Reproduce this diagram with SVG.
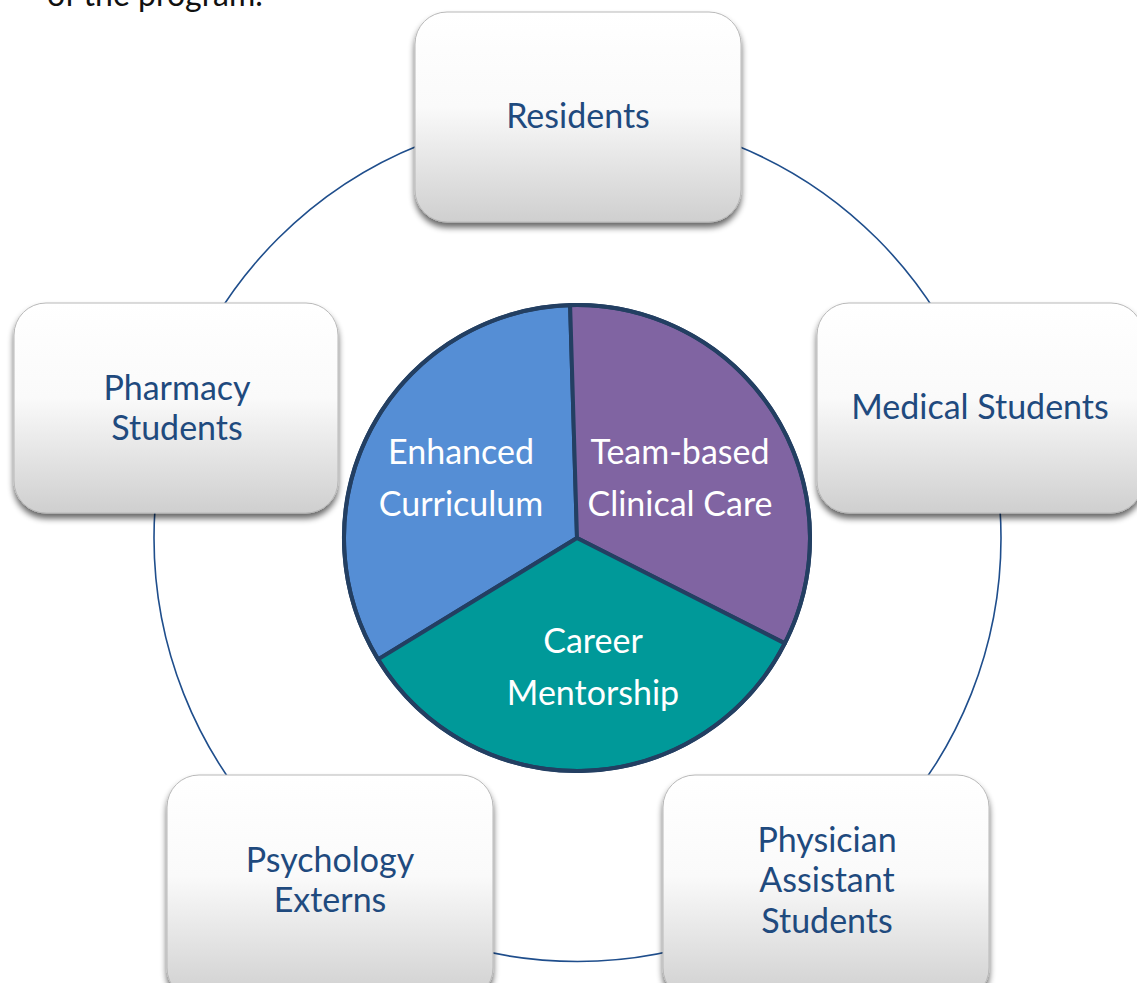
<svg xmlns="http://www.w3.org/2000/svg" width="1137" height="983" viewBox="0 0 1137 983">
<defs>
<linearGradient id="boxg" x1="0" y1="0" x2="0" y2="1">
<stop offset="0" stop-color="#ffffff"/>
<stop offset="0.45" stop-color="#fafafa"/>
<stop offset="1" stop-color="#cfcfcf"/>
</linearGradient>
<filter id="sh" x="-10%" y="-10%" width="120%" height="125%">
<feGaussianBlur in="SourceAlpha" stdDeviation="3"/>
<feOffset dx="0" dy="5" result="b"/>
<feComponentTransfer><feFuncA type="linear" slope="0.6"/></feComponentTransfer>
<feMerge><feMergeNode/><feMergeNode in="SourceGraphic"/></feMerge>
</filter>
</defs>
<style>
.box{fill:url(#boxg);stroke:#b8b8b8;stroke-width:1;filter:url(#sh)}
.lbl{font-family:Lato,"Liberation Sans",sans-serif;font-size:34px;fill:#1F4A7E;text-anchor:middle}
.pl{font-family:Lato,"Liberation Sans",sans-serif;font-size:34px;fill:#ffffff;text-anchor:middle}
.seg{stroke:#233F62;stroke-width:4;stroke-linejoin:round}
</style>
<rect width="1137" height="983" fill="#ffffff"/>
<text x="47" y="6" font-family="Lato,'Liberation Sans',sans-serif" font-size="32" fill="#111111">of the program.</text>
<g id="connectors">
<circle cx="577.5" cy="538" r="423.5" fill="none" stroke="#1F4E8C" stroke-width="1.6"/>
</g>
<g id="center-pie">
<path class="seg" fill="#558ED5" d="M577,538 L570.1,305.1 A233,233 0 0 0 378.1,659.4 Z"/>
<path class="seg" fill="#8064A2" d="M577,538 L784.8,643.4 A233,233 0 0 0 570.1,305.1 Z"/>
<path class="seg" fill="#009999" d="M577,538 L378.1,659.4 A233,233 0 0 0 784.8,643.4 Z"/>
<circle cx="577" cy="538" r="233" fill="none" stroke="#233F62" stroke-width="4"/>
<text class="pl" x="461" y="464">Enhanced</text>
<text class="pl" x="461" y="516">Curriculum</text>
<text class="pl" x="680" y="464">Team-based</text>
<text class="pl" x="680" y="516">Clinical Care</text>
<text class="pl" x="593" y="653">Career</text>
<text class="pl" x="593" y="705">Mentorship</text>
</g>
<g id="residents">
<rect class="box" x="415" y="12" width="326" height="210" rx="32"/>
<text class="lbl" x="578" y="128">Residents</text>
</g>
<g id="medical-students">
<rect class="box" x="817" y="303" width="326" height="210" rx="32"/>
<text class="lbl" x="980" y="419">Medical Students</text>
</g>
<g id="physician-assistant-students">
<rect class="box" x="663" y="775" width="326" height="225" rx="32"/>
<text class="lbl" x="827" y="852">Physician</text>
<text class="lbl" x="827" y="892">Assistant</text>
<text class="lbl" x="827" y="933">Students</text>
</g>
<g id="psychology-externs">
<rect class="box" x="167" y="775" width="326" height="225" rx="32"/>
<text class="lbl" x="330" y="872">Psychology</text>
<text class="lbl" x="330" y="912">Externs</text>
</g>
<g id="pharmacy-students">
<rect class="box" x="14" y="303" width="324" height="210" rx="32"/>
<text class="lbl" x="177" y="400">Pharmacy</text>
<text class="lbl" x="177" y="440">Students</text>
</g>
</svg>
